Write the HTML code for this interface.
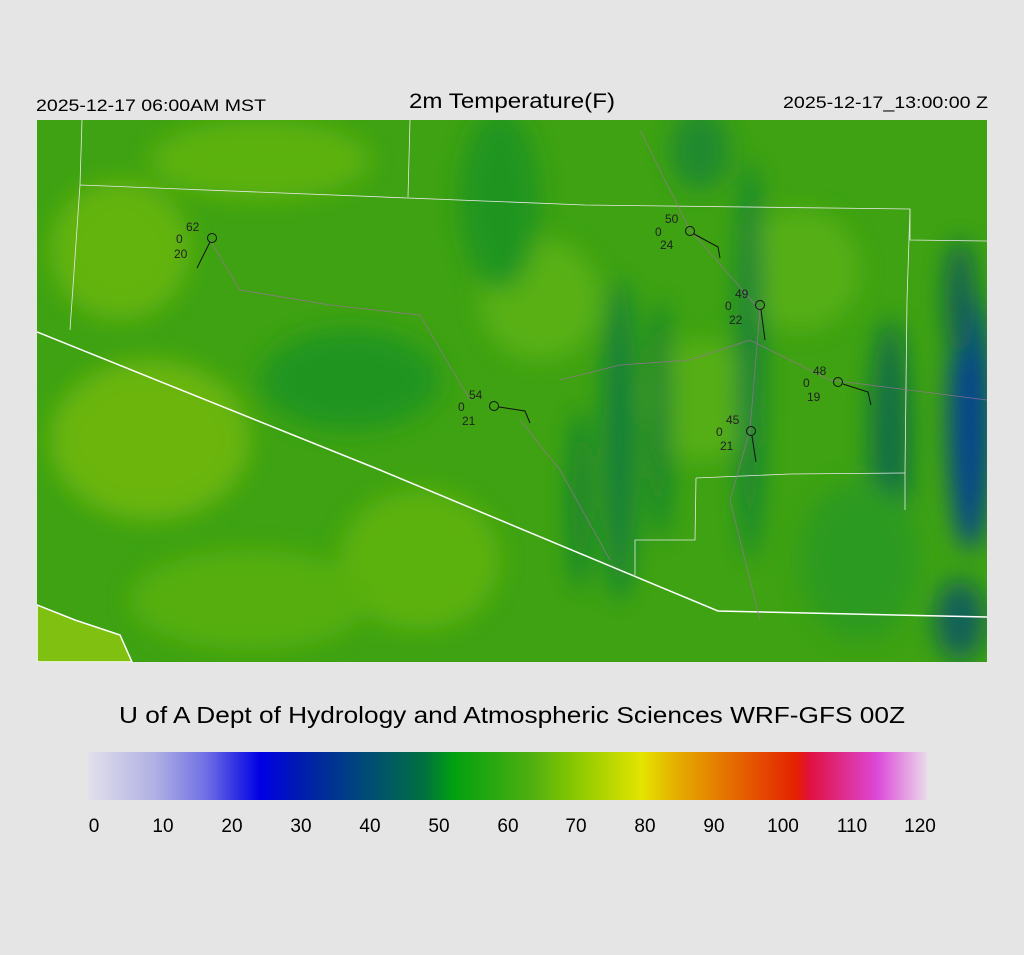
<!DOCTYPE html>
<html><head><meta charset="utf-8"><style>
body{margin:0;background:#e5e5e5;width:1024px;height:950px;overflow:hidden;font-family:"Liberation Sans",sans-serif;}
</style></head><body>
<svg width="1024" height="950" xmlns="http://www.w3.org/2000/svg" font-family="Liberation Sans, sans-serif">
<defs>
<linearGradient id="cb" x1="0" x2="1">
<stop offset="0" stop-color="#e2e0ea"/>
<stop offset="0.08" stop-color="#b0b0e4"/>
<stop offset="0.14" stop-color="#7070e4"/>
<stop offset="0.205" stop-color="#0000e4"/>
<stop offset="0.26" stop-color="#0020a8"/>
<stop offset="0.34" stop-color="#005070"/>
<stop offset="0.40" stop-color="#007040"/>
<stop offset="0.435" stop-color="#00a010"/>
<stop offset="0.53" stop-color="#50b010"/>
<stop offset="0.58" stop-color="#88c800"/>
<stop offset="0.66" stop-color="#e4e400"/>
<stop offset="0.70" stop-color="#e4b000"/>
<stop offset="0.78" stop-color="#e46000"/>
<stop offset="0.845" stop-color="#e42000"/>
<stop offset="0.86" stop-color="#e01040"/>
<stop offset="0.94" stop-color="#dc48d8"/>
<stop offset="1" stop-color="#eadaea"/>
</linearGradient>
<filter id="blur"><feGaussianBlur stdDeviation="12"/></filter>
<clipPath id="mc"><rect x="37" y="120" width="950" height="542"/></clipPath>
</defs>
<text x="36" y="111" font-size="17" textLength="230" lengthAdjust="spacingAndGlyphs">2025-12-17 06:00AM MST</text>
<text x="409" y="108" font-size="21" textLength="206" lengthAdjust="spacingAndGlyphs">2m Temperature(F)</text>
<text x="783" y="108" font-size="17" textLength="205" lengthAdjust="spacingAndGlyphs">2025-12-17_13:00:00 Z</text>
<g clip-path="url(#mc)">
<rect x="37" y="120" width="950" height="542" fill="#3ea212"/>
<g filter="url(#blur)" opacity="0.9">
<ellipse cx="150" cy="440" rx="100" ry="80" fill="#70b810"/>
<ellipse cx="120" cy="250" rx="70" ry="70" fill="#68b610"/>
<ellipse cx="260" cy="160" rx="110" ry="40" fill="#60b410"/>
<ellipse cx="420" cy="560" rx="80" ry="70" fill="#60b410"/>
<ellipse cx="540" cy="300" rx="60" ry="60" fill="#5cb212"/>
<ellipse cx="700" cy="400" rx="55" ry="60" fill="#58b012"/>
<ellipse cx="800" cy="270" rx="60" ry="60" fill="#58b012"/>
<ellipse cx="350" cy="380" rx="90" ry="50" fill="#1a9424"/>
<ellipse cx="500" cy="200" rx="40" ry="90" fill="#1a9424"/>
<ellipse cx="620" cy="440" rx="16" ry="160" fill="#0a7a40"/>
<ellipse cx="750" cy="360" rx="12" ry="200" fill="#0a7a40"/>
<ellipse cx="660" cy="420" rx="10" ry="120" fill="#107a38"/>
<ellipse cx="580" cy="500" rx="10" ry="90" fill="#107a38"/>
<ellipse cx="890" cy="440" rx="20" ry="120" fill="#0a6a48"/>
<ellipse cx="970" cy="420" rx="22" ry="130" fill="#003c98"/>
<ellipse cx="960" cy="300" rx="15" ry="60" fill="#0a5a58"/>
<ellipse cx="700" cy="150" rx="30" ry="40" fill="#1a8830"/>
<ellipse cx="860" cy="560" rx="60" ry="80" fill="#2a9a20"/>
<ellipse cx="250" cy="600" rx="120" ry="50" fill="#58b010"/>
<ellipse cx="960" cy="620" rx="25" ry="40" fill="#0a5a60"/>
</g>
<path d="M37,605 L75,620 L120,635 L132,662 L37,662Z" fill="#80c010" stroke="#fff" stroke-width="1.5"/>
<g fill="none" stroke="#fff" stroke-width="1.5">
<path d="M37,332 L380,470 L718,611 L987,617"/>
</g>
<g fill="none" stroke="#e8e8e8" stroke-width="0.8">
<path d="M80,185 L585,205 L910,209 L910,240 L987,241"/>
<path d="M82,120 L80,185 L70,330"/>
<path d="M410,120 L408,197"/>
<path d="M910,209 L907,300 L905,470 L905,510"/>
<path d="M696,478 L790,474 L905,473"/>
<path d="M696,478 L695,540 L635,540 L635,575"/>
</g>
<g fill="none" stroke="#a070a0" stroke-width="0.8" opacity="0.8">
<path d="M210,240 L240,290 L330,305 L420,315 L470,400"/>
<path d="M560,380 L620,365 L690,360 L750,340 L830,380 L987,400"/>
<path d="M640,130 L690,230 L760,310 L750,430 L730,500 L760,620"/>
<path d="M520,420 L560,470 L610,560"/>
</g>
</g>
<g font-size="12" fill="#111" stroke="#111">
<g fill="none" stroke-width="1">
<circle cx="212" cy="238" r="4.5"/><path d="M210,242 L197,268"/>
<circle cx="690" cy="231" r="4.5"/><path d="M694,234 L718,247 L720,258"/>
<circle cx="760" cy="305" r="4.5"/><path d="M761,310 L765,340"/>
<circle cx="494" cy="406" r="4.5"/><path d="M499,407 L525,411 L530,423"/>
<circle cx="838" cy="382" r="4.5"/><path d="M843,384 L868,392 L871,405"/>
<circle cx="751" cy="431" r="4.5"/><path d="M752,436 L756,462"/>
</g>
<g stroke="none" fill="#222">
<text x="186" y="231">62</text><text x="176" y="243">0</text><text x="174" y="258">20</text>
<text x="665" y="223">50</text><text x="655" y="236">0</text><text x="660" y="249">24</text>
<text x="735" y="298">49</text><text x="725" y="310">0</text><text x="729" y="324">22</text>
<text x="469" y="399">54</text><text x="458" y="411">0</text><text x="462" y="425">21</text>
<text x="813" y="375">48</text><text x="803" y="387">0</text><text x="807" y="401">19</text>
<text x="726" y="424">45</text><text x="716" y="436">0</text><text x="720" y="450">21</text>
</g>
</g>
<text x="119" y="723" font-size="23" textLength="786" lengthAdjust="spacingAndGlyphs">U of A Dept of Hydrology and Atmospheric Sciences WRF-GFS 00Z</text>
<rect x="88" y="752" width="839" height="48" fill="url(#cb)"/>
<g font-size="19" text-anchor="middle">
<text x="94" y="832">0</text><text x="163" y="832">10</text><text x="232" y="832">20</text><text x="301" y="832">30</text><text x="370" y="832">40</text><text x="439" y="832">50</text><text x="508" y="832">60</text><text x="576" y="832">70</text><text x="645" y="832">80</text><text x="714" y="832">90</text><text x="783" y="832">100</text><text x="852" y="832">110</text><text x="920" y="832">120</text>
</g>
</svg>
</body></html>
